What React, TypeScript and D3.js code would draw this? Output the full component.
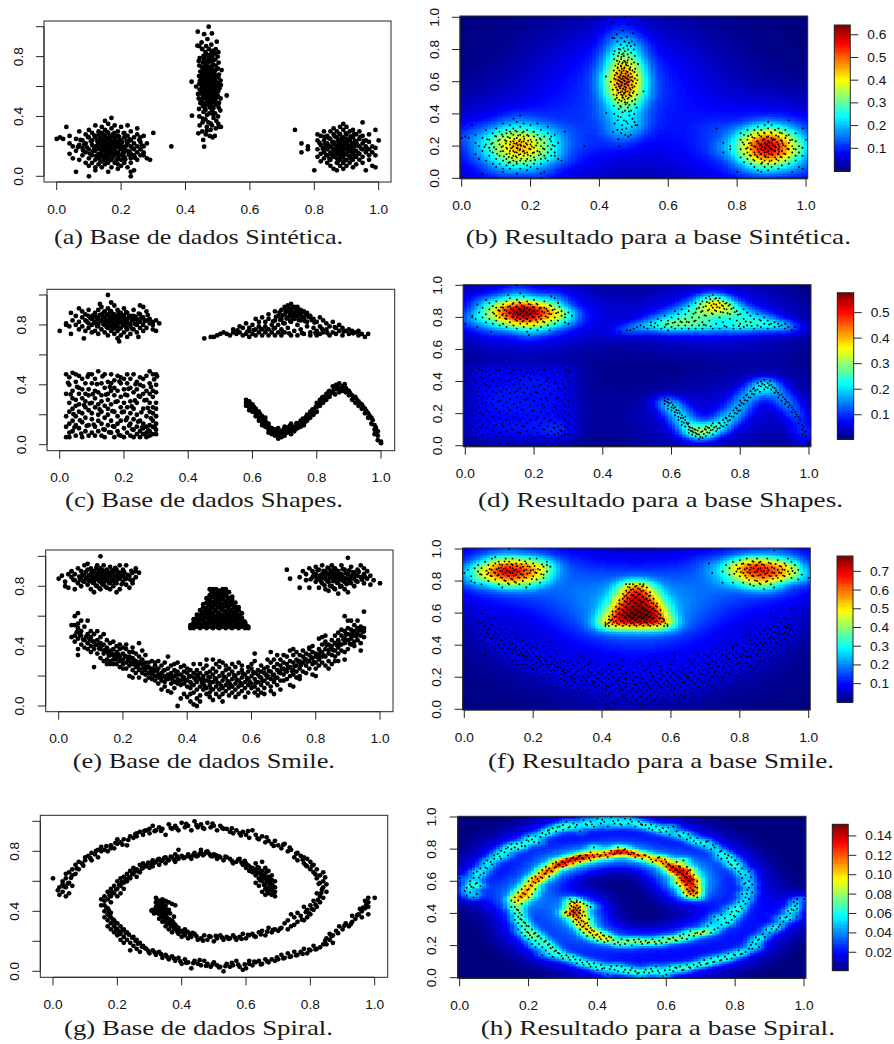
import React, { useMemo } from "react";
import * as d3 from "d3";

type Pt = [number, number];
// Flat x,y lists, in percent of the unit axis
const pairs = (f: number[]): Pt[] => d3.range(0, f.length - 1, 2).map((i) => [f[i] / 100, f[i + 1] / 100] as Pt);
// Column lists: [x, y, y, y...], in percent
const cols = (c: number[][]): Pt[] => c.flatMap(([x, ...ys]) => ys.map((y) => [x / 100, y / 100] as Pt));

const synthWest = pairs([0,25,1,26,2,25,3,33,4,27,6,3,10,0,17,39,15,37,23,0,24,4,23,3,30,29,29,11,28,12,25,32,16,3,12,4,19,5,27,27,28,22,35.6,20,
4,22,5,20,4,15,5,12,6,25,6,17,7,11,7,21,7,30,8,14,8,24,8,19,9,9,9,28,9,16,9,22,10,31,10,12,10,18,10,26,10,7,11,14,11,21,11,29,11,24,11,9,12,17,12,34,12,11,12,26,12,20,12,6,13,15,13,23,13,30,13,8,13,19,13,28,13,12,14,25,14,17,14,33,14,21,14,10,14,6,14,29,15,14,15,20,15,27,15,8,15,23,15,31,15,17,15,11,16,19,16,25,16,13,16,35,16,29,16,22,16,9,16,16,17,21,17,6,17,27,17,15,17,32,17,11,17,18,17,24,18,14,18,20,18,29,18,9,18,26,18,17,18,34,18,23,19,12,19,21,19,27,19,8,19,16,19,30,20,18,20,24,20,11,20,33,20,14,20,7,20,21,21,26,21,16,21,9,21,29,21,19,21,13,22,22,22,34,22,6,22,17,22,27,23,12,23,20,23,30,23,15,23,24,23,9,24,18,24,26,24,14,24,22,25,16,25,11,25,28,25,20,26,23,26,14,26,18,26,26,27,16,27,20,27,14,
9.4,19.3,10.6,23.4,11.3,16.7,11.7,27.2,12.3,13.6,12.8,21.6,13.2,18.3,13.4,25.7,13.6,9.7,13.9,15.4,14.2,22.7,14.4,27.8,14.6,12.6,14.7,19.2,15.3,24.4,15.4,16.2,15.6,29.6,15.8,21.4,15.9,10.3,16.2,18.5,16.4,26.6,16.6,14.7,16.7,23.1,17.2,20.2,17.3,12.2,17.6,28.4,17.8,16.6,18.2,24.6,18.4,19.4,18.6,10.8,18.7,21.8,19.2,14.6,19.4,26.3,19.6,18.4,20.3,22.6,20.6,15.7,20.8,28.7,21.3,11.4,21.6,20.4,22.4,14.4,22.7,24.7,23.6,18.6,24.3,12.4,8.6,21.3,8.2,17.2,7.4,24.3,6.6,19.6,10.3,15.2,9.7,26.3,11.6,19.4,12.6,23.6,13.7,13.2,14.3,18.6,15.2,21.7,15.7,13.8,16.3,20.6,16.8,17.4,17.4,22.5,18.3,15.6,19.3,23.4,20.4,19.7,21.7,23.6,22.6,16.4,25.6,24.4,26.4,20.6]);
const synthEast = pairs([74,31,76,22,76,16,78,20,78,18,80,4,95,36,96,4,99,6,98,7,100,24,99,31,89,35,
81,13,81,18,81,24,81,28,82,15,82,21,82,10,82,27,83,12,83,19,83,24,83,30,83,16,84,9,84,22,84,27,84,14,84,18,85,11,85,30,85,20,85,25,85,7,85,16,86,13,86,23,86,28,86,18,86,5,86,32,87,21,87,9,87,15,87,26,87,12,87,4,87,18,87,30,88,24,88,19,88,7,88,33,88,14,88,22,88,28,88,11,88,16,89,20,89,26,89,5,89,13,89,31,89,17,89,23,89,9,90,18,90,28,90,11,90,22,90,15,90,33,90,25,90,7,91,20,91,13,91,30,91,24,91,17,91,9,92,26,92,15,92,21,92,6,92,31,92,11,92,18,93,23,93,13,93,28,93,17,93,8,94,20,94,25,94,11,94,15,94,30,95,18,95,22,95,9,95,13,95,27,96,16,96,24,96,20,97,14,97,28,97,18,97,11,97,23,98,20,98,16,99,19,99,14,
82.6,18.4,83.4,21.7,83.7,14.3,84.4,25.6,84.7,11.6,85.3,19.4,85.6,22.8,85.8,13.7,86.3,16.4,86.4,26.7,86.7,20.6,87.3,9.8,87.4,23.7,87.6,17.4,87.8,28.4,88.3,13.2,88.4,20.7,88.6,25.6,88.7,16.3,89.3,22.4,89.4,10.6,89.6,18.7,89.8,28.6,90.3,14.4,90.4,20.6,90.6,24.3,90.7,17.2,91.3,26.6,91.4,11.8,91.6,22.4,91.8,15.3,92.3,19.6,92.4,28.3,92.6,13.4,92.7,23.7,93.4,20.6,93.6,15.4,94.3,26.4,94.6,18.4,95.4,23.6,87.2,19.4,86.2,21.6,88.2,18.3,89.2,15.3,90.2,23.6,88.8,21.4,87.7,24.4,86.8,15.2,85.2,14.6,84.2,20.6,91.2,19.3,92.2,16.6,93.2,21.7,96.4,18.4,81.6,22.3,83.2,26.3]);
const synthMid = pairs([47.2,100,43.8,96.7,45.8,95,48.2,95.5,46.8,91.7,49.7,90,43.7,87.3,45,89.5,41.9,63.2,52.8,54,42,40.5,45.8,19.8,45.5,24.3,50.5,33,44,28.7,
46.3,28,48.4,26,47.5,27,49.1,27,45.2,30,47.8,31,49.4,32,51,33,46.6,33,48.2,34,44.4,34,50.2,35,45.3,36,47.1,36,49.6,37,46.2,38,48.7,39,44.3,40,50.1,40,46.7,41,47.4,42,49.2,42,45.6,43,48.3,44,50.8,44,44.2,45,46.1,45,47.6,46,50.3,46,45.4,47,48.1,47,49.5,48,46.4,48,44.6,49,47.3,49,50.4,49,45.1,50,46.8,50,48.5,50,49.3,51,47.7,51,44.1,52,46.3,52,48.6,52,50.9,52,45.5,53,47.2,53,49.7,53,46.6,54,48.2,54,50,54,43.9,55,45.2,55,47.5,55,49.1,55,46,56,48.8,56,47.3,57,50.2,57,45.7,57,44.4,58,46.5,58,48.3,58,49.4,58,47.8,59,45.1,59,50.6,59,46.2,60,48.6,60,43.3,60,47.1,61,49.2,61,45.4,61,51,61,44.3,62,46.7,62,48.1,62,50.3,62,47.4,63,45.6,63,49.5,63,46.1,64,44.5,64,48.4,64,50.9,64,47.6,65,45.2,65,49.1,65,46.4,66,48.2,66,50.2,66,44.2,67,47,67,45.8,67,49.6,67,46.5,68,48.7,68,50.4,68,47.3,69,45.3,69,49,69,46.2,70,44.6,70,48.3,70,51.2,71,47.7,71,45.5,71,49.3,71,46.8,72,48.1,72,50.1,72,45.1,73,47.2,73,44.3,74,49.4,74,46.3,74,48.5,75,45.4,76,47.1,76,50.3,76,46.6,77,44.1,77,48.2,77,49.2,78,45.7,78,47.4,79,46,80,50,80,48.3,80,44.4,79,47,81,49.1,82,46.2,83,48.6,84,50.2,83,45.2,85,47.3,85,49.4,85,46.4,87,48,88,44.3,87,
46.6,30.4,47.8,35.3,45.4,38.6,48.6,41.5,46.2,44.3,47.4,47.2,48.7,45.6,45.8,48.6,46.7,51.3,48.2,49.4,47.1,52.4,45.3,54.6,48.8,53.3,46.9,55.6,44.8,56.4,47.7,56.4,46.2,57.3,48.4,57.6,45.6,58.4,47.4,58.6,49.7,60.3,46.6,59.4,48.1,59.7,45.7,60.6,47.3,60.4,46.3,61.6,48.4,61.3,44.7,61.3,47.7,62.4,45.9,62.6,49,62.7,46.9,63.4,48.3,63.6,44.9,65.6,46.4,65.2,47.9,66.4,45.3,68.4,47.2,68.3,48.9,67.4,46.3,69.4,47.8,70.4,45.8,72.4,47.5,72.3,46.4,75.4,48.2,73.4,47,77.6,45.6,80.4,48,82.3,46.7,50.2,47.6,53.7,46.1,53.4,48.9,51.4,45,51.6,49.6,56.4,46.6,71.2]);

const shapesBlob = pairs([0,76,2,80,3.5,74,3.5,88,6,91,12.5,94,16,95,25,93,26,92,31,81,30,76,18.5,69,7.5,71,24.5,72,15,100,
2,81,3,79,4,83,5,80,5,86,6,82,6,77,7,85,7,79,7,89,8,76,8,83,8,87,9,81,9,78,9,86,9,90,10,75,10,84,10,80,11,88,11,82,11,76,11,86,12,79,12,84,12,74,12,90,12,81,13,77,13,87,13,83,13,92,14,80,14,75,14,85,14,89,14,82,15,78,15,83,15,87,15,73,15,91,15,80,16,85,16,76,16,82,16,89,16,79,17,84,17,74,17,87,17,81,17,93,17,78,18,86,18,71,18,83,18,79,18,90,18,76,19,82,19,85,19,73,19,88,19,78,20,80,20,84,20,91,20,75,20,86,21,82,21,77,21,88,21,72,21,84,22,79,22,86,22,74,22,81,23,83,23,90,23,77,23,86,24,80,24,75,24,84,25,87,25,78,25,82,26,80,26,85,26,76,27,83,27,78,27,89,28,81,28,84,29,77,29,82,29,80,30,83,
8.4,82.3,9.6,84.4,10.4,86.3,10.7,81.4,11.4,84.6,11.6,79.3,12.4,86.6,12.7,82.6,13.4,85.4,13.6,80.4,13.7,88.3,14.3,83.4,14.6,78.6,14.7,86.4,15.3,81.6,15.6,85.3,15.7,89.4,16.3,83.6,16.6,77.4,16.4,87.4,16.8,80.6,17.3,85.6,17.6,82.4,17.7,79.4,18.3,81.3,18.4,88.4,18.6,84.6,18.7,77.6,19.3,83.3,19.6,80.4,19.7,86.6,20.3,82.6,20.6,78.4,20.7,88.6,21.4,80.3,21.6,85.6,22.4,83.6,22.6,77.4,23.4,80.6,23.6,85.3,24.4,82.3,24.6,87.6,25.4,84.6,26.4,82.6,27.4,86.6]);
const shapesTriangle = pairs([45,71,47,72,48,72,49,73,50,74,51,75,52,74,53,73,54,75,54,77,55,74,56,79,56,75,57,73,57,78,58,74,58,81,59,76,59,78,59,72,60,80,60,74,61,84,61,77,61,73,62,82,62,75,62,79,63,85,63,73,63,77,64,82,64,75,64,79,65,73,65,84,65,77,65,87,66,80,66,75,67,89,67,83,67,73,67,78,68,86,68,80,68,75,69,90,69,84,69,77,69,73,70,92,70,87,70,81,70,75,71,93,71,89,71,85,71,78,72,94,72,90,72,86,72,73,72,82,73,92,73,88,73,84,73,76,74,92,74,89,74,86,74,80,74,73,75,90,75,87,75,83,75,77,76,89,76,85,76,74,77,88,77,82,77,79,78,86,78,73,78,75,79,84,79,78,80,82,80,76,80,73,81,85,81,79,81,74,82,83,82,75,83,81,83,77,84,79,84,73,85,82,85,75,86,78,86,74,87,80,87,76,88,78,88,73,89,76,90,77,90,74,91,76,92,75,93,76,93,73,94,74,95,72,96,74,
66.4,82.3,67.3,85.4,68.4,88.3,68.6,83.4,69.3,86.4,69.6,81.3,70.3,89.6,70.6,84.3,71.3,91.3,71.6,87.4,71.7,82.6,72.3,88.4,72.6,84.4,72.7,91.6,73.3,86.4,73.6,90.3,74.3,83.4,74.6,87.6,75.3,85.4,75.6,88.6,76.3,82.6,76.6,87.3,77.4,85.3,78.4,83.3,79.3,81.6,62.6,77.4,64.4,77.3,58.4,75.6,60.4,76.6,55.3,76.4,66.6,77.6,69.4,75.4,71.4,74.4,75.4,74.6,79.6,74.6,83.3,74.6,85.6,78.6,81.6,77.4,88.4,75.6,91.3,74.4]);
const shapesSquare = [...cols([[2,47,19,12,5,34],[3,45,40,28,14,5,8,22],[4,48,36,24,16,9,31],[5,47,42,30,19,6,13,26],[6,38,34,27,11,46,22],[7,44,37,21,5,31,15],[8,29,41,25,9,18,34],[9,47,33,23,13,6,37],[10,47,28,17,8,41,21],[11,31,44,25,12,36,6],[12,49,27,16,9,35,20],[13,33,22,41,6,14,29],[14,47,38,18,10,26,5],[15,30,42,24,13,34,20],[16,47,36,8,16,27,41],[17,43,33,22,5,12,38],[18,46,29,19,9,36,14],[19,41,25,6,32,16,45],[20,37,44,11,22,28,5],[21,33,47,18,8,41,25],[22,44,14,38,6,29,21],[23,47,35,10,24,17,5],[24,42,28,12,37,20,7],[25,45,32,9,16,40,5],[26,39,44,24,11,34,7,14],[27,46,36,19,8,30,12,5],[28,49,41,22,13,34,9,6,28],[29,47,32,16,21,7,36,12,25],[30,47,35,19,10,28,14,7,40,24]]),
...pairs([2.6,41.3,3.4,33.6,4.3,20.4,4.6,11.6,5.4,38.6,6.3,16.3,6.7,7.4,7.6,26.4,8.4,12.6,8.7,45.4,9.4,27.6,10.3,33.7,10.6,13.4,11.6,40.4,12.4,23.6,13.3,45.6,13.6,10.3,14.4,33.4,15.4,8.3,15.6,38.6,16.4,22.4,16.6,12.4,17.4,28.6,18.4,6.6,18.6,42.3,19.4,21.6,20.4,33.4,20.6,16.4,21.4,37.3,21.6,12.7,22.4,25.6,22.6,10.3,23.4,29.6,23.6,40.4,24.4,15.4,24.6,32.6,25.4,21.6,25.6,11.4,26.4,29.6,27.4,24.6,27.6,9.6,28.4,17.6,28.4,38.6,29.4,43.6,29.6,11.4,30.3,45.6])];
const shapesCurve = pairs([58,30,58,28,58,26,59,29,59,27,59,25,59,23,60,27,60,24,60,22,61,24,61,21,61,19,62,22,62,18,62,16,63,19,63,15,63,13,64,16,64,12,64,18,65,14,65,10,65,8,65,12,66,11,66,7,66,9,67,10,67,6,67,8,68,4,68,7,68,11,69,5,69,9,70,6,70,10,70,12,71,8,71,11,72,10,72,7,72,14,73,12,73,9,74,14,74,11,75,16,75,12,76,17,76,13,77,20,77,16,78,22,78,18,79,23,79,20,80,25,80,28,80,22,81,30,81,26,82,32,82,28,83,34,83,30,84,36,84,32,85,39,85,35,86,37,86,40,87,35,87,41,87,38,88,39,88,36,89,38,89,35,90,36,90,33,91,33,91,30,92,32,92,28,93,29,93,26,94,27,94,24,95,24,95,21,96,21,96,18,97,18,97,14,98,13,98,10,99,9,99,6,99,3,100,1,100,2,98,7,
58.6,27.4,59.4,26.3,60.4,25.4,60.6,23.3,61.4,22.3,61.7,20.4,62.4,20.4,62.7,17.3,63.4,17.3,63.6,14.3,64.4,14.3,64.7,13.4,65.4,11.4,65.6,9.3,66.4,8.4,66.6,10.3,67.4,7.3,67.6,9.4,68.4,5.4,68.6,8.6,69.4,7.3,69.7,10.4,70.4,8.3,70.6,11.4,71.4,9.6,71.6,12.6,72.4,11.4,73.4,10.6,73.7,14.4,74.4,12.6,75.4,14.4,75.7,17.4,76.4,15.4,76.7,18.6,77.4,18.3,78.4,20.4,78.7,23.6,79.4,21.6,79.7,25.4,80.4,26.6,81.3,28.4,81.7,31.4,82.4,30.3,83.4,32.4,83.7,35.4,84.4,34.4,85.4,37.3,85.7,33.6,86.4,38.6,87.4,36.6,88.4,37.6,88.7,40.4,89.4,36.6,90.4,34.4,91.4,31.4,92.4,30.3,93.4,27.6,94.4,25.4,95.4,22.6,96.4,19.4,97.4,16.4,98.4,11.4,98.7,8.6]);

const smileEyeLeft = pairs([0,85,1,87,2,83,2,80,3,79,3,88,4,86,4,90,5,78,5,84,5,88,6,82,6,92,7,85,7,80,7,90,8,94,8,83,8,87,9,95,9,81,9,85,9,91,10,88,10,78,10,84,10,92,11,82,11,86,11,90,11,76,12,94,12,80,12,85,12,88,13,83,13,92,13,78,13,86,13,100,14,90,14,81,14,85,14,88,14,94,15,79,15,84,15,87,15,91,16,82,16,86,16,93,16,78,17,89,17,84,17,80,18,87,18,91,18,76,18,82,19,85,19,89,19,78,19,94,20,83,20,87,20,91,21,81,21,85,21,94,22,79,22,87,23,82,23,89,23,84,24,86,24,90,24,92,25,89,
4.6,84.3,6.4,86.4,6.6,84.2,7.4,87.6,7.6,83.3,8.4,89.6,8.6,85.4,9.4,87.4,9.6,83.4,10.3,90.3,10.4,86.3,10.6,82.3,10.7,88.4,11.3,84.3,11.4,87.6,11.6,80.4,11.7,92.3,12.3,86.6,12.4,90.4,12.6,83.3,12.7,78.6,13.3,88.6,13.4,85.3,13.6,81.4,13.7,90.6,14.3,83.3,14.4,86.6,14.6,79.6,15.3,89.4,15.4,85.6,15.6,82.3,16.3,88.3,16.4,84.3,16.6,90.6,17.3,86.6,17.4,82.4,17.6,92.3,18.3,84.6,18.4,89.3,19.3,86.6,19.6,81.3,20.4,89.4,20.6,85.3,21.4,87.6,22.3,84.3,22.6,90.3]);
const smileEyeRight = pairs([71,91,72,85,75,79,75,86,76,90,77,84,77,88,78,79,78,92,79,86,79,90,80,83,80,88,80,93,81,79,81,85,81,91,82,88,82,82,82,94,83,78,83,85,83,90,83,87,84,77,84,83,84,92,84,88,85,80,85,86,85,94,85,90,86,78,86,84,86,88,86,92,87,82,87,86,87,75,87,90,88,80,88,94,88,85,88,88,89,78,89,83,89,91,90,85,90,99,90,88,90,76,91,82,91,93,91,87,92,80,92,89,92,85,93,83,93,91,93,87,94,86,94,94,95,82,95,88,95,92,96,85,96,90,97,81,97,87,98,84,100,82,
78.4,84.6,79.4,87.6,80.3,85.6,80.6,90.6,81.4,87.3,81.6,83.3,82.3,85.6,82.4,90.3,82.7,80.6,83.3,88.4,83.6,83.3,83.7,92.4,84.3,85.6,84.4,80.4,84.6,89.6,85.3,87.6,85.4,83.4,85.6,91.6,85.7,78.6,86.3,86.3,86.4,90.4,86.6,82.3,87.3,88.3,87.4,84.4,87.6,79.6,88.3,86.6,88.4,91.4,88.6,83.3,89.3,88.6,89.4,85.3,89.6,81.4,90.4,90.6,90.6,83.3,91.4,85.3,91.6,89.4,92.4,87.3,92.6,83.4,93.4,89.6,94.4,84.4,95.3,86.3]);
const smileNose = [...cols([[41,52,53,54],[42,52,54,56,58],[43,53,56,59,61],[44,52,55,58,61,64],[45,53,57,60,63,66,68],[46,52,55,59,62,65,69,72],[47,53,57,60,64,67,71,74,78],[48,52,55,58,62,66,69,73,76,78],[49,54,57,60,64,68,71,75,78],[50,52,56,59,62,66,70,73,77],[51,53,55,58,61,65,68,72,75,78],[52,52,57,60,63,67,70,74,77,78],[53,54,56,59,62,65,69,72,76],[54,52,55,58,61,64,68,71,73],[55,53,57,60,63,66,69],[56,52,55,58,61,64,66],[57,53,57,59,62],[58,52,55,56],[59,52,53]]),
...pairs([41.6,53.3,42.6,55.4,43.4,54.4,43.6,57.6,44.4,53.6,44.6,59.4,44.7,62.4,45.4,55.3,45.6,58.6,45.7,62.3,45.6,65.4,46.4,53.6,46.6,57.4,46.4,60.6,46.7,63.7,46.6,67.4,46.5,70.4,47.4,55.4,47.6,58.6,47.4,62.4,47.6,65.6,47.4,69.3,47.6,72.6,47.5,76.4,48.4,53.6,48.6,56.6,48.4,60.4,48.6,63.6,48.4,67.6,48.6,71.4,48.4,74.6,49.4,52.6,49.6,55.4,49.4,58.6,49.6,62.3,49.4,66.6,49.6,69.6,49.4,73.4,49.6,76.6,50.4,54.4,50.6,57.6,50.4,60.6,50.6,64.4,50.4,68.3,50.6,71.6,50.4,75.4,51.4,53.6,51.6,56.6,51.4,59.6,51.6,63.4,51.4,66.6,51.6,70.4,51.4,73.6,51.6,76.6,52.4,54.6,52.6,58.4,52.4,61.6,52.6,65.6,52.4,68.6,52.6,72.6,53.4,52.6,53.6,57.6,53.4,60.6,53.6,63.6,53.4,67.4,53.6,70.6,54.4,53.6,54.6,56.6,54.4,59.6,54.6,62.6,54.4,66.4,55.4,54.6,55.6,58.6,55.4,61.6,55.6,64.6,56.4,53.6,56.6,56.6,56.4,59.6,57.4,54.6,57.6,56.6,58.4,53.6])];
const smileMouth = [...cols([[4,54,46],[5,54,47,60,43],[6,52,62,45,38,34,55],[7,50,47,41,57],[8,53,44,39],[9,48,57,42,38],[10,46,50,40,36],[11,48,43,38,26],[12,44,50,41,35],[13,46,38,32,42],[14,48,41,35,30,37],[15,36,44,31,28,39],[16,42,34,37,30,28],[17,34,38,43,28,31],[18,36,31,40,28,33],[19,38,33,26,41,30],[20,35,31,25,39,28],[21,33,38,25,29,41],[22,30,36,20,27,33],[23,32,28,24,19,36,39],[24,30,35,26,22,28],[25,33,24,19,42,28],[26,28,22,31,25,37],[27,24,29,21,17,34],[28,26,22,19,29],[29,23,18,30,25,21],[30,20,27,17,24,29],[31,25,19,21,15,30],[32,22,17,27,11,19],[33,24,16,20,13,29],[34,18,25,21,10,33],[35,22,15,27,19,9],[36,20,24,16,12,28],[37,18,23,29,15,0,21],[38,21,14,26,17,5],[39,19,15,23,27,8],[40,22,13,17,25,6],[41,16,20,12,24,3,8],[42,19,14,22,28,1,9],[43,16,21,11,24,0,5],[44,18,13,22,7,28,3],[45,15,20,11,25,18],[46,12,17,22,8,27,31],[47,19,14,23,9,6,16],[48,16,11,21,25,4,31],[49,18,13,23,8,28],[50,15,20,11,26,6,30],[51,17,22,12,3,8,29],[52,14,19,24,10,27],[53,16,21,12,7,25],[54,18,13,23,9,28],[55,15,20,11,26,6],[56,17,22,13,8,29],[57,14,19,24,10,27],[58,16,21,12,6],[59,18,14,23,9,26],[60,15,20,12,25,28],[61,18,13,22,9,30,35],[62,16,21,11,24,7],[63,19,14,23,27,9],[64,17,22,12,25,8],[65,20,15,26,19,31],[66,18,23,13,29,36,10],[67,21,16,26,31,8],[68,19,24,14,28,34],[69,22,17,27,31,11],[70,21,25,17,29,34],[71,23,18,28,33],[72,26,20,30,37,14],[73,24,29,21,34,38,13],[74,27,23,31,36,19],[75,25,30,34,20,18],[76,29,33,23,37],[77,27,31,35,22],[78,30,34,25,38,39],[79,32,28,36,40,21],[80,29,35,33,25,20],[81,34,38,31,27,45],[82,36,41,29,33,46],[83,38,33,43,27,47],[84,35,41,37,30,25],[85,40,44,34,28],[86,37,42,47,33,30],[87,44,39,49,35,30],[88,41,47,37,51],[89,45,42,50,36,31,60],[90,48,44,38,52,57],[91,45,51,41,47,57],[92,50,43,47,54,40],[93,48,44,52,57],[94,47,53,51,37,42],[95,52,50,63,46]]),
...pairs([5.6,49.3,6.6,47.6,7.6,44.4,8.6,46.3,9.6,44.6,10.4,43.3,11.4,40.6,12.6,38.4,13.4,40.3,14.6,37.4,15.6,33.6,16.4,35.6,17.4,33.3,18.6,34.4,19.4,30.6,20.6,33.4,21.6,31.4,22.6,28.4,23.4,30.6,24.6,26.4,25.4,29.6,26.6,26.6,27.4,26.3,28.6,24.4,29.4,22.6,30.6,23.4,31.4,20.6,32.6,23.6,33.4,18.6,34.6,20.3,35.4,17.6,36.6,22.6,37.4,16.6,38.6,19.4,39.4,17.3,40.6,19.6,41.4,14.4,42.6,17.4,43.4,19.6,44.6,15.6,45.4,13.3,46.6,19.6,47.4,11.6,48.6,18.6,49.4,15.6,50.6,13.4,51.4,19.6,52.6,16.6,53.4,14.4,54.6,20.6,55.4,17.6,56.6,15.3,57.4,21.6,58.6,18.6,59.4,16.3,60.6,22.6,61.4,15.6,62.6,19.3,63.4,16.6,64.6,20.6,65.4,23.3,66.6,20.6,67.4,18.4,68.6,22.4,69.4,24.6,70.6,23.6,71.4,25.6,72.6,23.3,73.4,26.6,74.6,29.6,75.4,27.3,76.6,31.4,77.4,29.6,78.6,32.4,79.4,29.3,80.6,32.6,81.4,36.3,82.6,33.6,83.4,40.6,84.6,38.4,85.4,37.3,86.6,40.6,87.4,41.6,88.6,44.4,89.4,47.6,90.6,41.6,91.4,48.6,92.6,46.6,93.4,50.4,94.6,49.4])];

const spiralOuterNorth = pairs([1.5,54,2,51,2,56,3,53,3,58,3,60,0,62,4,50,4,56,4,62,4,65,5,59,5,52,5,66,6,57,6,64,6,68,7,65,7,71,8,68,8,73,9,72,10,74,10,76,11,77,12,74,12,79,13,78,14,81,14,76,15,83,15,80,16,81,17,80,18,84,18,82,19,82,20,88,20,85,21,86,22,88,23,84,24,90,25,89,26,92,26,90,27,93,28,91,29,94,30,95,30,92,31,97,32,94,33,96,34,95,35,91,36,98,37,95,38,97,39,94,40,99,41,96,42,97,43,94,44,100,45,96,46,98,47,95,48,99,49,96,50,97,51,94,52,97,53,95,54,95,55,93,56,92,57,94,58,92,59,93,60,91,61,89,62,94,63,91,64,88,65,90,66,86,67,87,68,85,69,87,70,84,71,82,72,85,73,80,74,81,75,76,76,79,76,74,77,77,78,72,78,76,79,70,79,75,80,68,80,73,81,66,81,71,82,62,82,68,83,64,83,59,84,66,84,56,84,60,85,58,85,53,83,50,84,49,83,46,82,52,82,43,81,47,81,41,80,44,80,38,79,41,79,36,78,43,78,34,77,37,76,33,76,39,75,31,75,36,74,30,74,38,73,34,73,28,72,32,
3.4,56.6,4.6,58.4,5.6,62.3,7.4,68.6,9.4,70.4,11.6,75.4,13.4,80.3,16.6,83.4,19.4,85.6,21.6,84.4,23.4,87.6,25.6,91.4,28.4,93.6,31.6,93.4,33.6,93.6,36.6,95.6,38.4,95.4,41.4,98.3,44.6,97.4,46.6,95.6,49.6,98.4,52.6,95.6,55.6,95.3,58.4,90.6,60.6,93.4,63.6,88.6,66.4,89.3,68.6,83.6,71.6,84.4,73.6,82.4,75.6,78.4,77.6,74.4,78.6,70.6,80.6,70.4,81.6,64.6,82.6,58.3,83.6,54.6,84.6,62.6,83.4,52.3,82.4,47.6,81.6,44.4,80.4,41.6,79.6,38.6,78.6,39.4,77.4,34.4]);
const spiralInnerSouth = pairs([71,29,70,27,69,28,68,26,67,29,66,24,65,27,64,26,63,23,62,25,61,24,60,22,59,25,58,23,57,21,56,24,55,22,54,23,53,21,52,24,51,22,50,20,49,23,48,21,47,24,46,22,45,21,44,25,43,23,42,26,42,22,41,24,41,28,40,27,40,23,39,29,39,25,38,28,38,31,37,26,37,30,37,34,36,28,36,32,36,35,35,30,35,33,35,37,35,40,34,33,34,36,34,39,34,42,34,45,33,35,33,38,33,41,33,44,33,47,33,42,33,39,32,40,32,43,32,46,32,49,32,39,31,41,35,44,35,47,35,42,36,46,36,41,37,45,38,44,34,48,34,47,
70.6,28.4,68.4,27.6,66.6,26.4,64.6,24.6,62.6,23.4,60.6,24.3,58.6,21.6,56.6,22.4,54.6,21.6,52.6,22.4,50.6,23.6,48.6,23.4,46.6,20.4,44.6,23.4,43.4,25.6,42.6,24.4,41.6,26.4,40.6,25.4,39.6,26.6,38.6,26.4,38.4,29.6,37.6,28.4,37.4,32.4,36.6,30.4,36.4,33.6,35.6,31.6,35.4,35.4,34.6,34.4,34.4,37.6,33.6,36.4,33.4,40.4,33.6,43.4,32.6,41.4,32.4,44.6,33.4,46.4,34.6,40.6,34.4,43.4,35.6,38.6,32.4,47.4,36.4,38.6,30.6,40.4,31.4,38.6,37.6,36.4]);
const spiralOuterSouth = pairs([100,49,98,49,97,47,98,46,98,43,97,42,96,40,96,36,98,38,95,38,94,35,93,37,93,33,92,30,91,32,90,28,89,30,88,27,87,24,87,19,86,25,86,21,85,22,85,18,84,18,83,16,82,15,81,17,80,14,79,12,78,15,77,13,76,11,75,13,74,10,73,12,72,9,71,11,70,8,69,7,68,8,67,6,66,8,65,5,64,7,63,6,62,4,61,5,60,2,61,7,59,1,58,3,57,7,56,4,55,3,54,5,53,0,52,3,51,4,50,6,49,3,48,5,47,7,46,4,45,5,44,7,43,2,42,6,41,8,40,5,39,9,38,7,37,10,36,8,35,11,34,9,33,13,32,11,31,14,30,12,29,15,28,17,27,13,27,19,26,15,26,21,25,17,25,23,24,19,24,14,23,21,23,26,22,23,22,19,22,28,21,25,21,21,21,30,20,24,20,28,20,32,19,26,19,30,19,34,18,28,18,32,18,36,18,39,17,34,17,38,17,42,17,30,16,36,16,40,16,44,16,47,15,44,15,48,
97.4,44.6,96.4,42.4,95.4,41.6,94.6,37.4,92.6,31.6,90.6,30.4,88.6,25.4,86.6,23.4,84.6,20.4,81.6,14.6,79.6,14.4,77.6,11.6,75.6,10.6,73.6,9.6,71.6,8.6,69.6,9.3,66.6,6.6,64.6,4.6,62.6,6.4,59.6,4.6,57.6,4.4,55.6,5.6,53.6,3.4,51.6,2.6,49.6,4.6,47.6,3.6,45.6,7.4,43.6,5.4,41.4,5.6,39.6,6.6,37.6,8.6,35.6,9.4,33.6,11.4,31.6,12.6,29.6,13.6,28.6,15.4,27.6,16.4,26.4,18.4,25.6,20.4,24.6,22.4,23.6,24.4,22.6,25.6,21.6,27.4,20.4,26.4,19.6,28.4,18.6,34.6,19.4,32.3,17.6,36.6,17.4,40.4,16.6,42.4]);
const spiralInnerNorth = pairs([16,50,17,48,17,53,18,50,18,55,18,46,19,52,19,57,20,55,20,50,20,60,21,57,21,52,21,62,22,59,22,55,22,63,23,60,23,65,24,62,24,67,25,65,25,69,26,63,26,68,27,66,27,71,28,69,28,72,29,70,30,72,30,69,31,74,31,70,32,73,33,71,33,75,34,74,35,72,35,76,36,74,37,76,38,73,38,78,39,75,39,81,40,77,41,76,42,78,43,75,44,79,45,77,46,79,46,81,47,78,48,80,49,77,50,78,51,75,52,76,53,74,54,76,55,75,56,72,57,73,58,75,59,71,60,72,60,69,61,70,61,67,62,69,62,66,63,72,63,64,63,67,64,66,64,62,64,69,65,64,65,60,65,67,65,73,66,62,66,65,66,58,66,69,66,55,67,60,67,63,67,56,67,52,67,67,68,58,68,54,68,61,68,51,68,64,69,56,69,53,69,50,69,60,64,57,65,53,66,51,63,59,
17.6,50.6,18.4,52.6,19.6,54.6,20.6,57.6,21.4,59.6,22.6,61.4,23.6,62.6,24.6,64.6,25.4,66.6,26.6,66.4,27.6,68.4,28.6,70.4,29.6,72.4,30.6,71.4,31.6,72.4,32.6,74.4,33.6,73.4,34.6,75.6,35.6,74.4,36.6,76.4,37.6,74.4,38.6,76.4,40.6,75.4,42.4,76.4,43.6,77.4,44.6,76.6,45.6,78.4,46.6,77.3,47.6,79.4,48.6,78.3,49.6,76.6,50.6,77.4,51.6,76.6,53.6,76.4,55.6,73.6,57.6,74.6,58.6,72.4,59.6,73.6,60.6,70.6,61.6,68.6,62.6,67.4,63.6,69.4,63.4,65.6,64.6,64.6,64.4,60.6,65.4,62.6,65.6,57.6,66.4,60.4,66.6,53.6,67.4,58.4,67.6,54.4,68.4,56.6,68.6,52.4,67.4,61.6,66.4,66.6]);

// Density level for each group of points
const synthPeaks = [0.44, 0.58, 0.5];
const shapesPeaks = [0.56, 0.38, 0.1, 0.31];
const smilePeaks = [0.68, 0.66, 0.78, 0.09];
const spiralPeaks = [0.065, 0.125, 0.075, 0.14];

const xTickValues = [0, 0.2, 0.4, 0.6, 0.8, 1];
const scatterYLabels = [0, 0.4, 0.8];
const colorTicksA = [0.1, 0.2, 0.3, 0.4, 0.5, 0.6];
const colorTicksB = [0.1, 0.2, 0.3, 0.4, 0.5];
const colorTicksC = [0.1, 0.2, 0.3, 0.4, 0.5, 0.6, 0.7];
const colorTicksD = [0.02, 0.04, 0.06, 0.08, 0.1, 0.12, 0.14];

const captions = [
  "(a) Base de dados Sintética.", "(b) Resultado para a base Sintética.",
  "(c) Base de dados Shapes.", "(d) Resultado para a base Shapes.",
  "(e) Base de dados Smile.", "(f) Resultado para a base Smile.",
  "(g) Base de dados Spiral.", "(h) Resultado para a base Spiral.",
];

const datasets = [
  { groups: [synthWest, synthEast, synthMid], peaks: synthPeaks, h: 0.036, H: 0.17, tail: 0.06, gamma: 0.85 },
  { groups: [shapesBlob, shapesTriangle, shapesSquare, shapesCurve], peaks: shapesPeaks, h: 0.028, H: 0.12, tail: 0.05, gamma: 0.85 },
  { groups: [smileEyeLeft, smileEyeRight, smileNose, smileMouth], peaks: smilePeaks, h: 0.03, H: 0.14, tail: 0.05, gamma: 0.75 },
  { groups: [spiralOuterNorth, spiralInnerSouth, spiralOuterSouth, spiralInnerNorth], peaks: spiralPeaks, h: 0.014, H: 0.05, tail: 0.07, gamma: 0.65 },
];

const layout = [
  {
    left: { fx: [44, 391], fy: [21, 182], x: [56.7, 378.7], y: [176.3, 26.7], capX: [54, 343], capY: 244 },
    right: { fx: [460, 807.7], fy: [16, 178.7], x: [461.7, 806], y: [178.3, 17.3], capX: [465.7, 851], capY: 244 },
    bar: { x: [834.3, 850.3], y: [171, 25], domain: [0, 0.643], ticks: colorTicksA, fmt: ".1f" },
  },
  {
    left: { fx: [47, 394.7], fy: [289.3, 450.7], x: [59.7, 381], y: [444.7, 295], capX: [65, 343], capY: 507 },
    right: { fx: [463.3, 811], fy: [284.7, 446.7], x: [465.3, 809], y: [445.7, 285.3], capX: [478, 843], capY: 507 },
    bar: { x: [837.3, 853.7], y: [439, 292.7], domain: [0.005, 0.578], ticks: colorTicksB, fmt: ".1f" },
  },
  {
    left: { fx: [45.7, 393], fy: [550, 711.7], x: [58.7, 380], y: [706, 556.3], capX: [72.7, 335], capY: 768 },
    right: { fx: [462.7, 810.3], fy: [548, 710], x: [464.3, 808.7], y: [709.3, 549], capX: [488, 834], capY: 768 },
    bar: { x: [837, 853], y: [702, 556], domain: [0.002, 0.782], ticks: colorTicksC, fmt: ".1f" },
  },
  {
    left: { fx: [40.3, 387.7], fy: [815.3, 977.3], x: [53, 374.7], y: [971.3, 821.3], capX: [64, 333], capY: 1035 },
    right: { fx: [457.7, 806], fy: [816.3, 978.3], x: [459.7, 804], y: [977.7, 817], capX: [480.7, 835], capY: 1035 },
    bar: { x: [832.3, 848.3], y: [970.7, 824.3], domain: [0.001, 0.152], ticks: colorTicksD, fmt: ".2f" },
  },
];

const AXIS_FONT = "'Liberation Sans', Arial, sans-serif";
const CAPTION_FONT = "'Liberation Serif', 'Times New Roman', serif";
const INK = "#262626";
const TICK = 8;
const AXIS_SIZE = 13.7;

const jet = d3.scaleLinear<string>()
  .domain([0, 0.125, 0.375, 0.625, 0.875, 1])
  .range(["#00007f", "#0000ff", "#00ffff", "#ffff00", "#ff0000", "#7f0000"]);

const GRID = 100;
function densityField(ds: (typeof datasets)[number]): Float64Array {
  const total = new Float64Array(GRID * GRID);
  const a = 1 / (2 * ds.h * ds.h);
  const b = 1 / (2 * ds.H * ds.H);
  ds.groups.forEach((pts, g) => {
    const f = new Float64Array(GRID * GRID);
    let mx = 0;
    for (let j = 0; j < GRID; j++) {
      const gy = j / (GRID - 1);
      for (let i = 0; i < GRID; i++) {
        const gx = i / (GRID - 1);
        let s = 0;
        for (const [px, py] of pts) {
          const d2 = (gx - px) ** 2 + (gy - py) ** 2;
          s += Math.exp(-d2 * a) + ds.tail * Math.exp(-d2 * b);
        }
        f[j * GRID + i] = s;
        if (s > mx) mx = s;
      }
    }
    for (let n = 0; n < f.length; n++) total[n] += Math.pow(f[n] / mx, ds.gamma) * ds.peaks[g];
  });
  return total;
}

function Axes({ p, yLabels }: { p: any; yLabels: number[] }) {
  const sx = d3.scaleLinear().domain([0, 1]).range(p.x);
  const sy = d3.scaleLinear().domain([0, 1]).range(p.y);
  const bottom = p.fy[1];
  const left = p.fx[0];
  const fmt = d3.format(".1f");
  const yLabelX = left - 26;
  return (
    <g fontFamily={AXIS_FONT} fontSize={AXIS_SIZE} fill="#111">
      <rect x={p.fx[0]} y={p.fy[0]} width={p.fx[1] - p.fx[0]} height={p.fy[1] - p.fy[0]} fill="none" stroke={INK} strokeWidth={1} />
      <path d={`M${sx(0)},${bottom}H${sx(1)}`} stroke={INK} fill="none" />
      <path d={`M${left},${sy(0)}V${sy(1)}`} stroke={INK} fill="none" />
      {xTickValues.map((t) => (
        <g key={t}>
          <line x1={sx(t)} x2={sx(t)} y1={bottom} y2={bottom + TICK} stroke={INK} />
          <text x={sx(t)} y={bottom + 27} textAnchor="middle" dominantBaseline="central">{fmt(t)}</text>
        </g>
      ))}
      {xTickValues.map((t) => (
        <line key={t} x1={left - TICK} x2={left} y1={sy(t)} y2={sy(t)} stroke={INK} />
      ))}
      {yLabels.map((t) => (
        <text key={t} transform={`translate(${yLabelX},${sy(t)}) rotate(-90)`} textAnchor="middle" dominantBaseline="central">{fmt(t)}</text>
      ))}
    </g>
  );
}

function Caption({ text, p }: { text: string; p: any }) {
  return (
    <text x={p.capX[0]} y={p.capY} fontFamily={CAPTION_FONT} fontSize={22} fill="#1a1a1a"
      textLength={p.capX[1] - p.capX[0]} lengthAdjust="spacingAndGlyphs">{text}</text>
  );
}

function Dots({ pts, p, r }: { pts: Pt[]; p: any; r: number }) {
  const sx = d3.scaleLinear().domain([0, 1]).range(p.x);
  const sy = d3.scaleLinear().domain([0, 1]).range(p.y);
  return <g fill="#000">{pts.map(([x, y], i) => <circle key={i} cx={sx(x)} cy={sy(y)} r={r} />)}</g>;
}

function Heat({ field, p, domain, id }: { field: Float64Array; p: any; domain: number[]; id: string }) {
  const paths = useMemo(() => {
    const sx = d3.scaleLinear().domain([0, GRID - 1]).range(p.x);
    const sy = d3.scaleLinear().domain([0, GRID - 1]).range(p.y);
    const norm = d3.scaleLinear().domain(domain).range([0, 1]).clamp(true);
    const bins = new Map<number, string[]>();
    const w = sx(1) - sx(0);
    const h = sy(0) - sy(1);
    for (let j = 0; j < GRID; j++) {
      for (let i = 0; i < GRID; i++) {
        const bin = Math.round(norm(field[j * GRID + i]) * 128);
        const list = bins.get(bin) || [];
        list.push(`M${(sx(i) - w / 2).toFixed(2)},${(sy(j) - h / 2).toFixed(2)}h${w.toFixed(2)}v${h.toFixed(2)}h${(-w).toFixed(2)}z`);
        bins.set(bin, list);
      }
    }
    return [...bins.entries()].map(([bin, l]) => ({ bin, d: l.join("") }));
  }, [field, p, domain]);
  return (
    <g clipPath={`url(#${id})`} shapeRendering="crispEdges">
      <clipPath id={id}><rect x={p.fx[0]} y={p.fy[0]} width={p.fx[1] - p.fx[0]} height={p.fy[1] - p.fy[0]} /></clipPath>
      {paths.map(({ bin, d }) => <path key={bin} d={d} fill={jet(bin / 128)} />)}
    </g>
  );
}

function ColorBar({ bar }: { bar: any }) {
  const sy = d3.scaleLinear().domain(bar.domain).range(bar.y);
  const steps = d3.range(0, 64);
  const stepH = (bar.y[0] - bar.y[1]) / 64;
  const fmt = d3.format(bar.fmt);
  const right = bar.x[1];
  return (
    <g fontFamily={AXIS_FONT} fontSize={AXIS_SIZE} fill="#111">
      <g shapeRendering="crispEdges">
        {steps.map((s) => (
          <rect key={s} x={bar.x[0]} width={bar.x[1] - bar.x[0]} y={bar.y[0] - (s + 1) * stepH} height={stepH + 0.5} fill={jet((s + 0.5) / 64)} />
        ))}
      </g>
      <rect x={bar.x[0]} y={bar.y[1]} width={bar.x[1] - bar.x[0]} height={bar.y[0] - bar.y[1]} fill="none" stroke={INK} />
      {bar.ticks.map((t: number) => (
        <g key={t}>
          <line x1={right} x2={right + 8} y1={sy(t)} y2={sy(t)} stroke={INK} />
          <text x={right + 17} y={sy(t)} dominantBaseline="central">{fmt(t)}</text>
        </g>
      ))}
    </g>
  );
}

export default function App() {
  const fields = useMemo(() => datasets.map(densityField), []);
  return (
    <svg width={894} height={1044} style={{ position: "absolute", left: 0, top: 0, background: "#fff" }}>
      {layout.map((row, r) => {
        const pts = datasets[r].groups.flat();
        return (
          <g key={r}>
            <Dots pts={pts} p={row.left} r={2.4} />
            <Axes p={row.left} yLabels={scatterYLabels} />
            <Caption text={captions[r * 2]} p={row.left} />
            <Heat field={fields[r]} p={row.right} domain={row.bar.domain} id={`heat-${r}`} />
            <Dots pts={pts} p={row.right} r={0.95} />
            <Axes p={row.right} yLabels={xTickValues} />
            <Caption text={captions[r * 2 + 1]} p={row.right} />
            <ColorBar bar={row.bar} />
          </g>
        );
      })}
    </svg>
  );
}
